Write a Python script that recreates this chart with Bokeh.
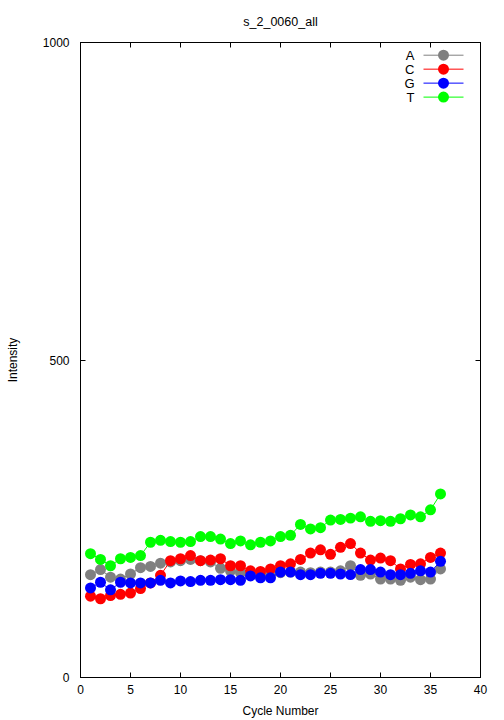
from bokeh.plotting import figure
from bokeh.models import Range1d, LinearAxis, FixedTicker, Title
from bokeh.core.properties import value
from bokeh.embed import file_html
from bokeh.resources import INLINE

cycles = list(range(1, 37))
A = [162, 170, 158, 155, 163, 173, 175, 180, 182, 184, 186, 184, 182, 172, 168, 165,
     163, 162, 163, 165, 166, 166, 165, 166, 166, 168, 176, 161, 163, 155, 155, 153,
     158, 154, 155, 171]
C = [128, 124, 129, 131, 133, 140, 149, 161, 184, 187, 192, 184, 185, 187, 176, 176,
     168, 167, 171, 176, 179, 186, 196, 201, 194, 205, 211, 196, 185, 188, 184, 171,
     178, 179, 189, 196]
G = [141, 150, 138, 150, 149, 149, 149, 153, 149, 152, 151, 153, 153, 154, 154, 153,
     160, 157, 157, 166, 166, 162, 162, 164, 164, 163, 162, 170, 170, 166, 162, 162,
     164, 168, 166, 183]
T = [195, 186, 176, 187, 189, 192, 213, 216, 214, 213, 214, 222, 222, 218, 211, 215,
     209, 213, 215, 222, 224, 241, 234, 236, 248, 249, 251, 253, 246, 247, 246, 250,
     256, 253, 264, 289]
series_names = ["A", "C", "G", "T"]
series_colors = ["#808080", "#ff0000", "#0000ff", "#00ff00"]
x_ticks = [0, 5, 10, 15, 20, 25, 30, 35, 40]
y_ticks = [0, 500, 1000]

FONT = "Liberation Sans"

p = figure(width=504, height=720, output_backend="svg", toolbar_location=None,
           x_range=Range1d(0, 40), y_range=Range1d(0, 1000),
           min_border_left=80, min_border_right=24, min_border_top=42,
           min_border_bottom=43)
p.title = None

p.grid.visible = False
p.outline_line_color = "black"
p.outline_line_width = 1
p.background_fill_color = "white"
p.border_fill_color = "white"

def style_axis(ax, labels=True):
    ax.major_tick_in = 5
    ax.major_tick_out = 0
    ax.minor_tick_in = 0
    ax.minor_tick_out = 0
    ax.axis_line_color = "black"
    ax.major_tick_line_color = "black"
    ax.major_label_text_font = FONT
    ax.major_label_text_font_size = "12px"
    ax.major_label_text_color = "black"
    ax.axis_label_text_font = FONT
    ax.axis_label_text_font_size = "12px"
    ax.axis_label_text_font_style = "normal"
    ax.axis_label_text_color = "black"
    if not labels:
        ax.major_label_text_font_size = "0px"
        ax.major_label_text_alpha = 0

p.xaxis.ticker = FixedTicker(ticks=x_ticks)
p.yaxis.ticker = FixedTicker(ticks=y_ticks)
p.xaxis.axis_label = "Cycle Number"
p.yaxis.axis_label = "Intensity"
style_axis(p.xaxis[0])
style_axis(p.yaxis[0])
p.xaxis.major_label_standoff = 7
p.yaxis.major_label_standoff = 11
p.xaxis.axis_label_standoff = 7
p.yaxis.axis_label_standoff = 20

top = LinearAxis(ticker=FixedTicker(ticks=x_ticks))
style_axis(top, labels=False)
top.major_label_standoff = 0
p.add_layout(top, "above")
right = LinearAxis(ticker=FixedTicker(ticks=y_ticks))
style_axis(right, labels=False)
right.major_label_standoff = 0
p.add_layout(right, "right")

spacer = Title(text=" ", text_font_size="7px", standoff=0)
title = Title(text="s_2_0060_all", align="center", text_font=FONT,
              text_font_size="12.5px", text_font_style="normal", text_color="black")
p.add_layout(spacer, "above")
p.add_layout(title, "above")

for name, vals, col in zip(series_names, [A, C, G, T], series_colors):
    p.line(cycles, vals, line_color=col, line_width=1)
    p.scatter(cycles, vals, size=11, fill_color=col, line_color=None)

# legend (label left of sample), placed in the top-right corner
leg_y = [980, 958, 936, 914]
for nm, col, yy in zip(series_names, series_colors, leg_y):
    p.segment(x0=[34.3], y0=[yy], x1=[38.3], y1=[yy], line_color=col, line_width=1)
    p.scatter([36.3], [yy], size=11, fill_color=col, line_color=None)
    p.text([33.4], [yy], text=[nm], text_align="right", text_baseline="middle",
           text_font=value(FONT), text_font_size="13px", text_color="black")

open("out.html", "w").write(file_html(p, INLINE))
